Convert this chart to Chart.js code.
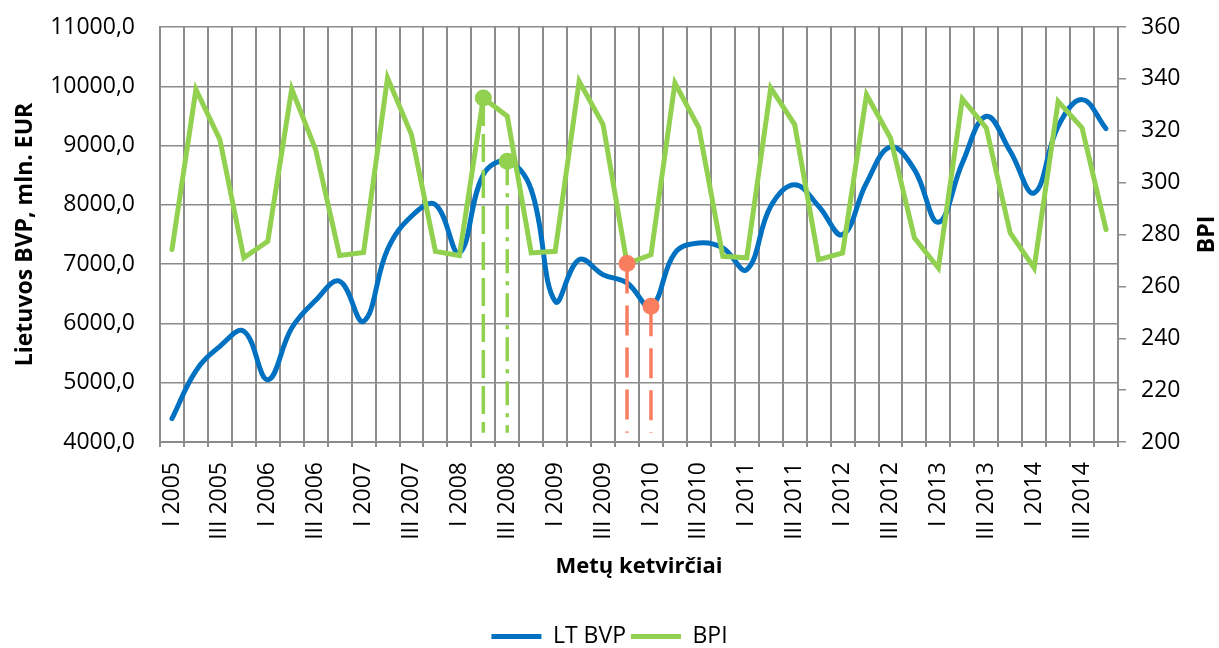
<!DOCTYPE html>
<html>
<head>
<meta charset="utf-8">
<script src="https://cdn.jsdelivr.net/npm/chart.js@4.4.1/dist/chart.umd.min.js"></script>
<style>
  html, body { margin: 0; padding: 0; background: #fff; }
  #wrap { width: 1219px; height: 648px; position: relative; }
</style>
</head>
<body>
<div id="wrap"><canvas id="myChart"></canvas></div>
<script>
const ketvirciai = [
  "I 2005", "II 2005", "III 2005", "IV 2005",
  "I 2006", "II 2006", "III 2006", "IV 2006",
  "I 2007", "II 2007", "III 2007", "IV 2007",
  "I 2008", "II 2008", "III 2008", "IV 2008",
  "I 2009", "II 2009", "III 2009", "IV 2009",
  "I 2010", "II 2010", "III 2010", "IV 2010",
  "I 2011", "II 2011", "III 2011", "IV 2011",
  "I 2012", "II 2012", "III 2012", "IV 2012",
  "I 2013", "II 2013", "III 2013", "IV 2013",
  "I 2014", "II 2014", "III 2014", "IV 2014"
];

// LT BVP, mln. EUR (kaire asis)
const ltBvp = [
  4395, 5200, 5614, 5867, 5052, 5924, 6390, 6711, 6036, 7246,
  7807, 8004, 7189, 8510, 8735, 8257, 6373, 7076, 6823, 6683,
  6289, 7189, 7358, 7274, 6908, 7976, 8341, 7976, 7498, 8370,
  8977, 8594, 7706, 8707, 9494, 8904, 8201, 9325, 9775, 9286
];

// BPI (desine asis)
const bpi = [
  274.2, 335.9, 316.6, 271.0, 277.4, 336.1, 312.7, 271.9, 273.1, 340.4,
  318.5, 273.5, 271.9, 332.6, 325.6, 272.9, 273.5, 339.1, 322.4, 268.8,
  272.2, 338.4, 321.1, 271.6, 271.0, 336.5, 322.4, 270.3, 272.9, 333.9,
  317.2, 278.7, 267.1, 332.3, 321.1, 280.6, 267.1, 331.3, 321.1, 281.9
];

// pazymeti taskai su nuleistomis linijomis
const zaliBpi = 13;
const zaliBvp = 14;
const raudoniBpi = 19;
const raudoniBvp = 20;
const bpiApacia = 203.6;
const bvpApacia = 4158;

const melyna = "#0070C0";
const zalia = "#92D050";
const raudona = "#F97D5F";
const szary = "#8c8c8c";
const sriftas = "'Open Sans', sans-serif";

Chart.defaults.font.family = sriftas;
Chart.defaults.color = "#000";

const nuleidimas = (idx, reiksme, apacia, asis, spalva, dash) => ({
  label: "",
  data: [{ x: ketvirciai[idx], y: reiksme }, { x: ketvirciai[idx], y: apacia }],
  yAxisID: asis,
  borderColor: spalva,
  backgroundColor: spalva,
  borderWidth: 3.5,
  borderDash: dash,
  pointRadius: [8.5, 0],
  pointHoverRadius: 0,
  pointBorderWidth: 0,
  order: 0
});

const bpiPavadinimas = {
  id: "bpiPavadinimas",
  afterDraw(chart) {
    const { ctx, chartArea } = chart;
    ctx.save();
    ctx.translate(1207, (chartArea.top + chartArea.bottom) / 2);
    ctx.rotate(-Math.PI / 2);
    ctx.font = "bold 23px " + sriftas;
    ctx.fillStyle = "#000";
    ctx.textAlign = "center";
    ctx.textBaseline = "middle";
    ctx.fillText("BPI", 0, 0);
    ctx.restore();
  }
};

const ctx = document.getElementById("myChart");

new Chart(ctx, {
  type: "line",
  data: {
    labels: ketvirciai,
    datasets: [
      {
        label: "LT BVP",
        data: ltBvp,
        yAxisID: "y",
        borderColor: melyna,
        backgroundColor: melyna,
        borderWidth: 5,
        borderCapStyle: "round",
        tension: 0.4,
        pointRadius: 0,
        order: 2
      },
      {
        label: "BPI",
        data: bpi,
        yAxisID: "y1",
        borderColor: zalia,
        backgroundColor: zalia,
        borderWidth: 5,
        borderCapStyle: "round",
        tension: 0,
        pointRadius: 0,
        order: 1
      },
      nuleidimas(zaliBpi, bpi[zaliBpi], bpiApacia, "y1", zalia, [28, 8]),
      nuleidimas(zaliBvp, ltBvp[zaliBvp], bvpApacia, "y", zalia, [24, 8, 4, 8]),
      nuleidimas(raudoniBpi, bpi[raudoniBpi], bpiApacia, "y1", raudona, [30, 12]),
      nuleidimas(raudoniBvp, ltBvp[raudoniBvp], bvpApacia, "y", raudona, [30, 12])
    ]
  },
  options: {
    responsive: true,
    maintainAspectRatio: false,
    animation: false,
    layout: { padding: { top: 27, left: 0, right: 0, bottom: 0 } },
    plugins: {
      tooltip: { enabled: false },
      legend: {
        position: "bottom",
        maxHeight: 28,
        labels: {
          font: { size: 23 },
          boxWidth: 50,
          boxHeight: 0,
          padding: 5,
          filter: (item) => item.text !== "",
          sort: (a, b) => a.datasetIndex - b.datasetIndex
        }
      }
    },
    scales: {
      x: {
        offset: true,
        grid: { offset: true, color: szary, lineWidth: 2, tickLength: 5 },
        border: { color: szary, width: 2 },
        ticks: {
          autoSkip: false,
          minRotation: 90,
          maxRotation: 90,
          padding: 15,
          font: { size: 23 },
          callback: (v, i) => (i % 2 === 0 ? ketvirciai[i] : "")
        },
        title: {
          display: true,
          text: "Metų ketvirčiai",
          font: { size: 22, weight: "bold" },
          padding: { top: 0, bottom: 40 }
        },
        afterFit: (scale) => { scale.height = 178; }
      },
      y: {
        position: "left",
        min: 4000,
        max: 11000,
        grid: { color: szary, lineWidth: 1.5, tickLength: 25, tickColor: "rgba(0,0,0,0)" },
        border: { color: szary, width: 2 },
        ticks: {
          stepSize: 1000,
          padding: 0,
          font: { size: 23, lineHeight: 1 },
          callback: (v) => v.toFixed(1).replace(".", ",")
        },
        title: {
          display: true,
          text: "Lietuvos BVP, mln. EUR",
          font: { size: 23, weight: "bold" },
          padding: { top: 12, bottom: 0 }
        },
        afterFit: (scale) => { scale.width = 160; }
      },
      y1: {
        position: "right",
        min: 200,
        max: 360,
        grid: { drawOnChartArea: false, color: szary, lineWidth: 1.5, tickLength: 8 },
        border: { color: szary, width: 2 },
        ticks: { stepSize: 20, padding: 15, font: { size: 23, lineHeight: 1 } },
        afterFit: (scale) => { scale.width = 101; }
      }
    }
  },
  plugins: [bpiPavadinimas]
});
</script>
</body>
</html>
